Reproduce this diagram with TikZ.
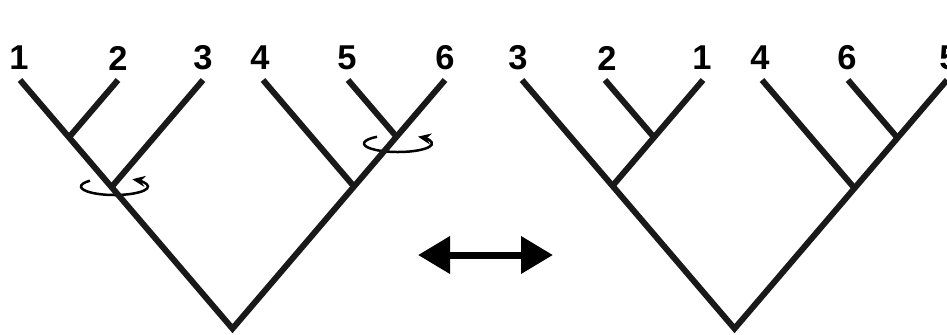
\documentclass[tikz,border=0pt]{standalone}
\usepackage{fontspec}
\setmainfont{Liberation Sans}
\usepackage{tikz}
\usetikzlibrary{arrows}
\usetikzlibrary{arrows.meta}

\tikzset{
  branch/.style={line width=0.06cm,black!90},
  lbl/.style={inner sep=0pt,font=\fontsize{9.8}{11}\selectfont\bfseries},
  twist/.style={line width=0.025cm,-{Stealth[length=0.13cm,width=0.11cm]}}
}

\begin{document}
\begin{tikzpicture}[scale=1]
\useasboundingbox (0,0) rectangle (9.47,3.34);
% left tree
\coordinate (a1) at (0.20,2.54);
\coordinate (a2) at (1.18,2.54);
\coordinate (a3) at (2.03,2.54);
\coordinate (a4) at (2.63,2.54);
\coordinate (a5) at (3.48,2.54);
\coordinate (a6) at (4.45,2.54);
\node[lbl] (la1) at (0.19,2.76) {1};
\node[lbl] (la2) at (1.18,2.76) {2};
\node[lbl] (la3) at (2.03,2.76) {3};
\node[lbl] (la4) at (2.60,2.76) {4};
\node[lbl] (la5) at (3.47,2.76) {5};
\node[lbl] (la6) at (4.45,2.76) {6};
\coordinate (ja12) at (0.69,1.967);
\coordinate (ja123) at (1.115,1.469);
\coordinate (ja56) at (3.965,1.973);
\coordinate (ja456) at (3.54,1.475);
\coordinate (ra) at (2.325,0.054);
\draw[twist] (1.145,1.475) ++(137:0.335 and 0.085)
  arc[start angle=137,end angle=418,x radius=0.335,y radius=0.085];
\draw[twist] (3.98,1.905) ++(128:0.34 and 0.085)
  arc[start angle=128,end angle=414,x radius=0.34,y radius=0.085];
\draw[branch] (a1) -- (ra) -- (a6);
\draw[branch] (a2) -- (ja12);
\draw[branch] (a3) -- (ja123);
\draw[branch] (a4) -- (ja456);
\draw[branch] (a5) -- (ja56);
% swap arrow
\coordinate (sl) at (4.18,0.79);
\coordinate (sr) at (5.53,0.79);
\draw[line width=0.07cm,{Triangle[length=0.32cm,width=0.36cm]}-{Triangle[length=0.32cm,width=0.36cm]}] (sl) -- (sr);
% right tree
\coordinate (b3) at (5.22,2.54);
\coordinate (b2) at (6.05,2.54);
\coordinate (b1) at (7.03,2.54);
\coordinate (b4) at (7.62,2.54);
\coordinate (b6) at (8.48,2.54);
\coordinate (b5) at (9.47,2.54);
\node[lbl] (lb3) at (5.18,2.76) {3};
\node[lbl] (lb2) at (6.07,2.76) {2};
\node[lbl] (lb1) at (7.02,2.76) {1};
\node[lbl] (lb4) at (7.60,2.76) {4};
\node[lbl] (lb6) at (8.47,2.76) {6};
\node[lbl] (lb5) at (9.49,2.76) {5};
\coordinate (jb21) at (6.54,1.967);
\coordinate (jb321) at (6.125,1.481);
\coordinate (jb65) at (8.975,1.961);
\coordinate (jb465) at (8.545,1.458);
\coordinate (rb) at (7.345,0.054);
\draw[branch] (b3) -- (rb) -- (b5);
\draw[branch] (b2) -- (jb21);
\draw[branch] (b1) -- (jb321);
\draw[branch] (b4) -- (jb465);
\draw[branch] (b6) -- (jb65);
\end{tikzpicture}
\end{document}
